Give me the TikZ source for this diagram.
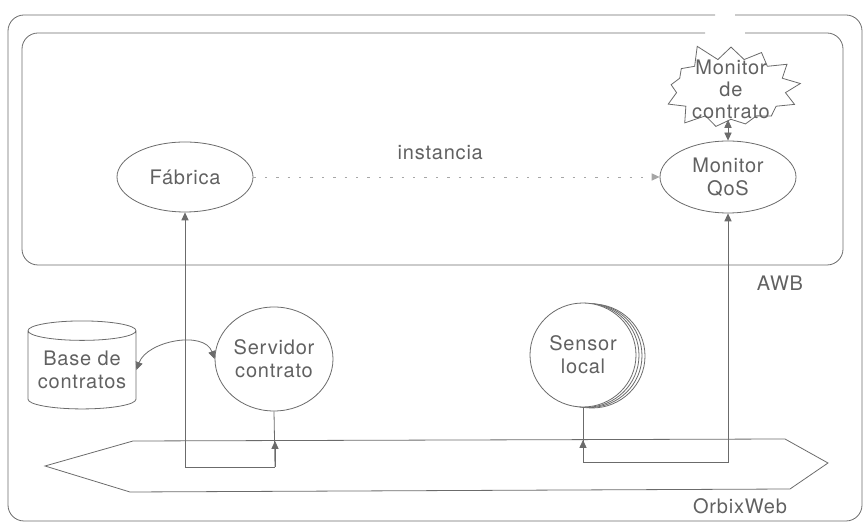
\documentclass[tikz,border=0pt]{standalone}
\usepackage{fontspec}
\setmainfont{TeX Gyre Heros}[LetterSpace=4]
\usetikzlibrary{positioning,arrows.meta,shapes.geometric,shapes.symbols,shadows}
\definecolor{linec}{gray}{0.42}
\definecolor{textc}{gray}{0.38}

\begin{document}
\begin{tikzpicture}[
  x=0.5pt, y=-0.5pt,
  font=\fontsize{10}{11.5}\selectfont,
  every node/.style={text=textc},
  frame/.style={draw=linec, rounded corners=8pt},
  proc/.style={draw=linec, ellipse, inner sep=0pt, align=center, fill=white},
  store/.style={draw=linec, cylinder, shape border rotate=90, aspect=0.22, inner sep=0pt, align=center},
  burst/.style={draw=linec, starburst, random starburst=5, starburst points=13, starburst point height=9.5pt, inner xsep=0pt, inner ysep=-4pt, align=center, fill=white, minimum width=66pt, font=\fontsize{10}{11}\selectfont},
  flow/.style={-{Triangle[length=4pt,width=3.6pt]}, draw=linec},
  both/.style={{Triangle[length=4pt,width=3.6pt]}-{Triangle[length=4pt,width=3.6pt]}, draw=linec},
  dots/.style={-{Triangle[length=4pt,width=3.6pt]}, draw=linec!60, dash pattern=on 1.2pt off 4.5pt}
]
\useasboundingbox (0,0) rectangle (868,528);

% outer and AWB frames (both broken at the top)
\draw[frame] (735,15) -| (862,521) -| (8,15) -- (715,15);
\draw[frame] (745,33) -| (843,265) -| (22,33) -- (705,33);
\node (awb) at (780,283) {AWB};
\node (orbixlbl) at (740,506) {OrbixWeb};

% bus
\coordinate (barL) at (45,466);
\coordinate (barTL) at (133,441);
\coordinate (barTR) at (785,439);
\coordinate (barR) at (828,463);
\coordinate (barBR) at (790,489);
\coordinate (barBL) at (130,492);
\draw[draw=linec] (barL) -- (barTL) -- (barTR) -- (barR) -- (barBR) -- (barBL) -- cycle;

% AWB side
\node[proc, minimum width=68pt, minimum height=35pt] (fabrica) at (185,177) {Fábrica};
\node[proc, minimum width=68pt, minimum height=36pt] (monqos) at (728,177) {Monitor\\QoS};
\node[burst] (moncon) at (731,89) {Monitor\\de\\contrato};

% lower side
\node[store, minimum width=54pt, minimum height=44pt] (base) at (82,370) {Base de\\contratos};
\node[proc, minimum width=59pt, minimum height=52pt] (servidor) at (274,359) {Servidor\\contrato};
\node[proc, minimum width=53pt, minimum height=52pt,
  copy shadow={shadow xshift=4.5pt, shadow yshift=-0.5pt, draw=linec, fill=white},
  copy shadow={shadow xshift=3pt, shadow yshift=-0.3pt, draw=linec, fill=white},
  copy shadow={shadow xshift=1.5pt, shadow yshift=-0.15pt, draw=linec, fill=white}] (sensor) at (583,355) {Sensor\\local};

\coordinate (jointS) at (275,467);
\coordinate (tapS) at (275,441);
\coordinate (jointL) at (583,462);
\coordinate (tapL) at (583,440);

\draw[dots] (fabrica) -- node[pos=0.46, above=5pt]{instancia} (monqos);
\draw[both] (monqos.north |- moncon.south) -- (monqos.north);
\draw[both] (base.east) to[out=70, in=110] (servidor.west);

\draw[draw=linec] (servidor.south) -- (jointS);
\draw[flow] (jointS) -- (tapS);
\draw[flow] (jointS) -| (fabrica.south);
\draw[draw=linec] (sensor.south) -- (jointL);
\draw[flow] (jointL) -- (tapL);
\draw[flow] (jointL) -| (monqos.south);
\end{tikzpicture}
\end{document}
